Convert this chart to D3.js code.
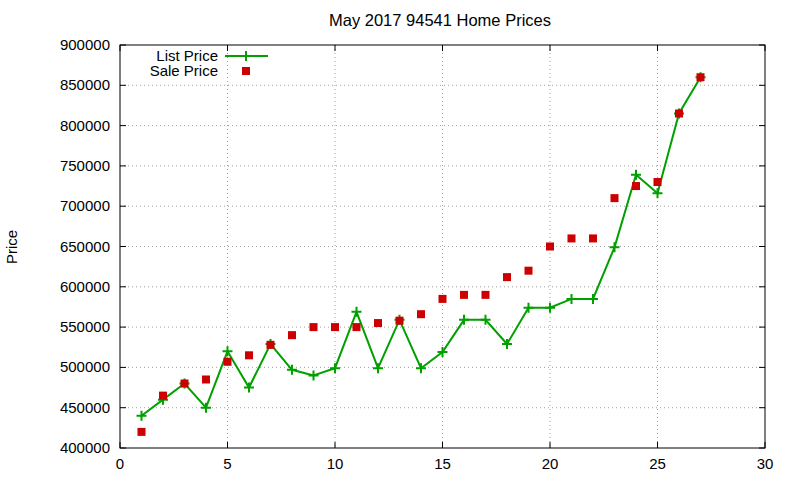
<!DOCTYPE html><html><head><meta charset="utf-8"><script src="https://cdn.jsdelivr.net/npm/d3@7"></script>
<style>body{margin:0;background:#fff}text{font-family:"Liberation Sans",Arial,sans-serif;font-size:15px;fill:#000}</style></head><body><svg id="c" width="800" height="480"></svg><script>
const days=d3.range(1,28);
const listPrice=[440000,460000,480000,450000,520000,475000,529000,497000,490000,499000,569000,499000,559000,499000,519000,559000,559000,529000,574000,574000,585000,585000,649000,739000,716000,815000,860000];
const salePrice=[420000,465000,480000,485000,507000,515000,528000,540000,550000,550000,550000,555000,558000,566000,585000,590000,590000,612000,620000,650000,660000,660000,710000,725000,730000,815000,860000];
const xTicks=[0,5,10,15,20,25,30];
const yTicks=d3.range(400000,900001,50000);
const svg=d3.select("#c");
const L=120,R=765,T=45,B=448;
const x=d3.scaleLinear().domain([0,30]).range([L,R]);
const y=d3.scaleLinear().domain([400000,900000]).range([B,T]);
const g=svg.append("g");
g.selectAll(".gx").data(xTicks.slice(1,-1)).join("line").attr("x1",d=>x(d)).attr("x2",d=>x(d)).attr("y1",T).attr("y2",B).attr("stroke","#a0a0a0").attr("stroke-dasharray","1,3");
g.selectAll(".gy").data(yTicks.slice(1,-1)).join("line").attr("y1",d=>y(d)).attr("y2",d=>y(d)).attr("x1",L).attr("x2",R).attr("stroke","#a0a0a0").attr("stroke-dasharray","1,3");
g.selectAll(".tx").data(xTicks).join("path").attr("d",d=>`M${x(d)},${B}v-6M${x(d)},${T}v6`).attr("stroke","#000");
g.selectAll(".ty").data(yTicks).join("path").attr("d",d=>`M${L},${y(d)}h6M${R},${y(d)}h-6`).attr("stroke","#000");
g.selectAll(".lx").data(xTicks).join("text").attr("x",d=>x(d)).attr("y",B+21).attr("text-anchor","middle").text(d=>d);
g.selectAll(".ly").data(yTicks).join("text").attr("x",L-10).attr("y",d=>y(d)+5).attr("text-anchor","end").text(d=>d);
g.append("rect").attr("x",L).attr("y",T).attr("width",R-L).attr("height",B-T).attr("fill","none").attr("stroke","#000");
g.append("text").attr("x",440).attr("y",26).attr("text-anchor","middle").style("font-size","16.5px").text("May 2017 94541 Home Prices");
g.append("text").attr("transform","translate(17,247) rotate(-90)").attr("text-anchor","middle").text("Price");
const green="#00a000",red="#cc0000";
g.append("path").datum(days.map((d,i)=>[d,listPrice[i]])).attr("d",d3.line().x(d=>x(d[0])).y(d=>y(d[1]))).attr("fill","none").attr("stroke",green).attr("stroke-width",2);
g.selectAll(".lp").data(days.map((d,i)=>[d,listPrice[i]])).join("path").attr("d",d=>`M${x(d[0])-5},${y(d[1])}h10M${x(d[0])},${y(d[1])-5}v10`).attr("stroke",green).attr("stroke-width",2);
g.selectAll(".sp").data(days.map((d,i)=>[d,salePrice[i]])).join("rect").attr("x",d=>x(d[0])-4).attr("y",d=>y(d[1])-4).attr("width",8).attr("height",8).attr("fill",red);
g.append("text").attr("x",218).attr("y",61).attr("text-anchor","end").text("List Price");
g.append("line").attr("x1",225).attr("x2",268).attr("y1",56).attr("y2",56).attr("stroke",green).attr("stroke-width",2);
g.append("path").attr("d","M241,56h10M246,51v10").attr("stroke",green).attr("stroke-width",2);
g.append("text").attr("x",218).attr("y",76).attr("text-anchor","end").text("Sale Price");
g.append("rect").attr("x",242).attr("y",67).attr("width",8).attr("height",8).attr("fill",red);
</script></body></html>
